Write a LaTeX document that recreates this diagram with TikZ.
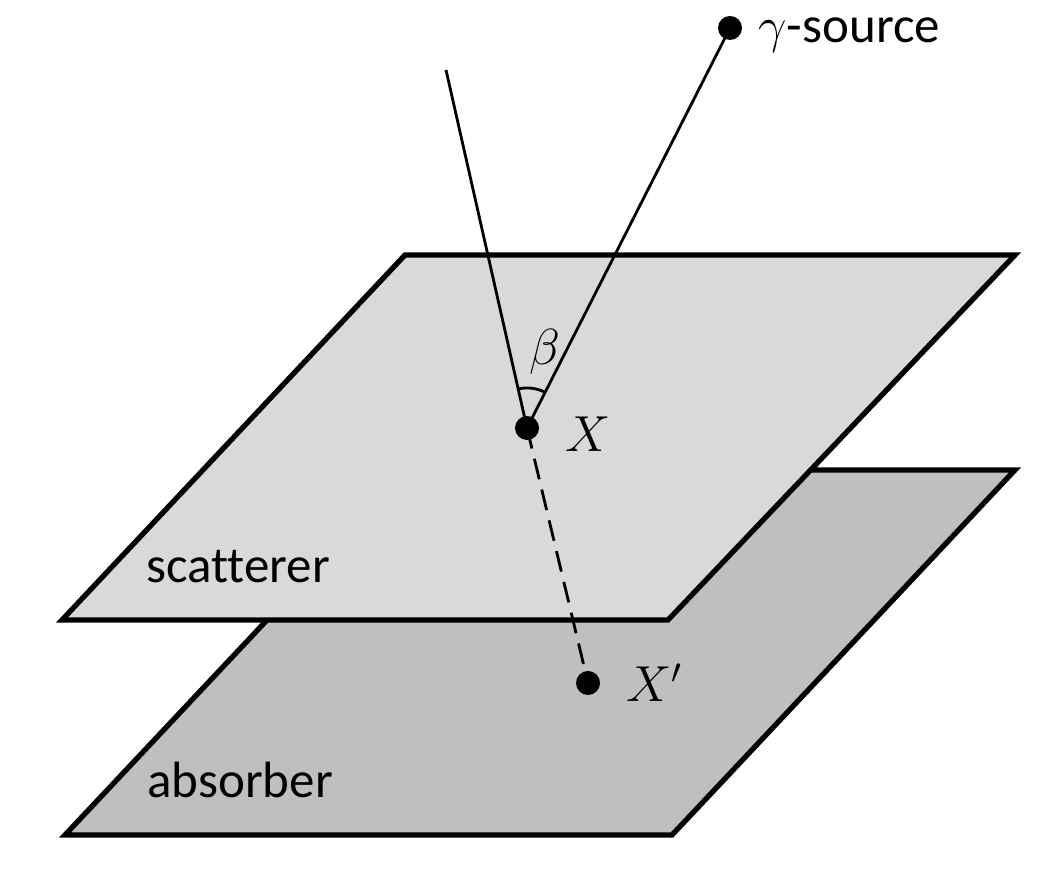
\documentclass[tikz,border=0pt]{standalone}
\usepackage{fontspec}
\setmainfont{Carlito}[Ligatures=NoCommon]
\usetikzlibrary{calc}
\begin{document}
\begin{tikzpicture}[x=0.01cm,y=-0.01cm]
\tikzstyle{plate}=[line width=1.5pt, line join=miter]
\tikzstyle{ray}=[line width=0.8pt]
\tikzstyle{dot}=[circle, fill=black, inner sep=0pt, minimum size=0.24cm]
\tikzstyle{lbl}=[font=\fontsize{14.5}{17}\selectfont]
\useasboundingbox (0,0) rectangle (1040,871);
% plates
\draw [plate, fill={rgb,255:red,191;green,191;blue,191}] (408,470) -- (1015,470) -- (672,835) -- (65,835) -- cycle;
\draw [plate, fill={rgb,255:red,217;green,217;blue,217}] (405,255) -- (1015,255) -- (668,620) -- (62,620) -- cycle;
\node [lbl] (scat) at (238,567) {scatterer};
\node [lbl] (abs) at (240,780) {absorber};
% points
\node [dot] (X) at (527,428) {};
\node [dot] (Xp) at (588,683) {};
\node [dot] (src) at (730,28) {};
\coordinate (top) at (446,70);
\node [lbl, anchor=west] (Xl) at (553,434) {$X$};
\node [lbl, anchor=west] (Xpl) at (614,683) {$X'$};
\node [lbl, anchor=west] (srcl) at (746,35) {$\gamma$-source};
% rays
\draw [ray] (top) -- (X.center) -- (src.center);
\draw [ray, dashed, dash pattern=on 6pt off 3pt] (X.center) -- (Xp.center);
\draw [ray] ($(X.center)+(63.1:0.4cm)$) arc (63.1:102.75:0.4cm);
\node [lbl] (beta) at (545,352) {$\beta$};
\end{tikzpicture}
\end{document}
